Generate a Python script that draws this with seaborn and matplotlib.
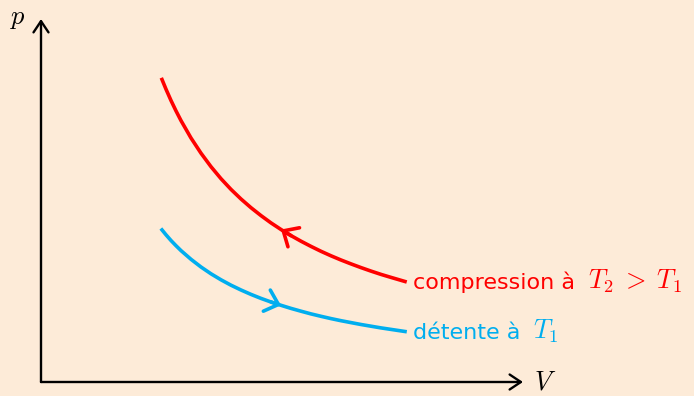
import matplotlib
matplotlib.use("Agg")
import matplotlib.pyplot as plt
import seaborn as sns
import pandas as pd
from matplotlib.offsetbox import TextArea, HPacker, AnnotationBbox

# Data (V, p in arbitrary units)
V_comp = [1.21, 1.25, 1.3, 1.35, 1.4, 1.5, 1.6, 1.7, 1.8, 1.9, 2.0, 2.1, 2.2,
          2.3, 2.4, 2.5, 2.6, 2.7, 2.8, 2.9, 3.0, 3.1, 3.2, 3.3, 3.4, 3.5, 3.64]
p_comp = [3.025, 2.928, 2.815, 2.711, 2.614, 2.440, 2.288, 2.153, 2.033,
          1.926, 1.830, 1.743, 1.664, 1.591, 1.525, 1.464, 1.408, 1.356,
          1.307, 1.262, 1.220, 1.181, 1.144, 1.109, 1.076, 1.046, 1.005]
V_det = [1.21, 1.25, 1.3, 1.35, 1.4, 1.5, 1.6, 1.7, 1.8, 1.9, 2.0, 2.1, 2.2,
         2.3, 2.4, 2.5, 2.6, 2.7, 2.8, 2.9, 3.0, 3.1, 3.2, 3.3, 3.4, 3.5, 3.64]
p_det = [1.521, 1.472, 1.415, 1.363, 1.314, 1.227, 1.150, 1.082, 1.022,
         0.968, 0.920, 0.876, 0.836, 0.800, 0.767, 0.736, 0.708, 0.681,
         0.657, 0.634, 0.613, 0.594, 0.575, 0.558, 0.541, 0.526, 0.505]
label_comp_text = "compression à"
label_comp_math = r"$T_2\;>\;T_1$"
label_det_text = "détente à"
label_det_math = r"$T_1$"
arrow_idx = 14

RED = "#FF0000"
BLUE = "#00AEEF"
BG = "#FDEBD8"

plt.rcParams["mathtext.fontset"] = "cm"
plt.rcParams["font.family"] = ["DejaVu Sans"]

fig = plt.figure(figsize=(6.94, 3.96), dpi=100, facecolor=BG)
ax = fig.add_axes([0, 0, 1, 1])
ax.set_facecolor(BG)

df_c = pd.DataFrame({"V": V_comp, "p": p_comp})
df_d = pd.DataFrame({"V": V_det, "p": p_det})
sns.lineplot(data=df_c, x="V", y="p", ax=ax, color=RED, lw=2.6, sort=False,
             solid_joinstyle="round")
sns.lineplot(data=df_d, x="V", y="p", ax=ax, color=BLUE, lw=2.6, sort=False,
             solid_joinstyle="round")

ax.set_xlim(-0.41, 6.53)
ax.set_ylim(-0.14, 3.82)
ax.axis("off")

# axes with arrows
axis_arrow = dict(arrowstyle="->,head_length=0.45,head_width=0.3",
                  lw=1.7, color="black", shrinkA=0, shrinkB=0,
                  mutation_scale=18)
ax.annotate("", xy=(4.82, 0), xytext=(0, 0), arrowprops=axis_arrow)
ax.annotate("", xy=(0, 3.63), xytext=(0, 0), arrowprops=axis_arrow)
ax.text(-0.23, 3.64, r"$p$", fontsize=19, ha="center", va="center")
ax.text(5.04, -0.01, r"$V$", fontsize=19, ha="center", va="center")

# direction arrows on curves
ax.annotate("", xy=(V_comp[arrow_idx], p_comp[arrow_idx]),
            xytext=(V_comp[arrow_idx + 1], p_comp[arrow_idx + 1]),
            arrowprops=dict(arrowstyle="->,head_length=0.55,head_width=0.5",
                            lw=2.6, color=RED, shrinkA=0, shrinkB=0,
                            mutation_scale=16))
ax.annotate("", xy=(V_det[arrow_idx], p_det[arrow_idx]),
            xytext=(V_det[arrow_idx - 1], p_det[arrow_idx - 1]),
            arrowprops=dict(arrowstyle="->,head_length=0.55,head_width=0.5",
                            lw=2.6, color=BLUE, shrinkA=0, shrinkB=0,
                            mutation_scale=16))


def label(x, y, txt, math, color):
    t1 = TextArea(txt, textprops=dict(color=color, fontsize=16))
    t2 = TextArea(math, textprops=dict(color=color, fontsize=19))
    box = HPacker(children=[t1, t2], align="baseline", pad=0, sep=9)
    ab = AnnotationBbox(box, (x, y), xycoords="data", box_alignment=(0, 0.5),
                        frameon=False, pad=0)
    ax.add_artist(ab)


label(V_comp[-1] + 0.08, p_comp[-1], label_comp_text, label_comp_math, RED)
label(V_det[-1] + 0.08, p_det[-1], label_det_text, label_det_math, BLUE)

fig.savefig("out.png", dpi=100, facecolor=BG)
